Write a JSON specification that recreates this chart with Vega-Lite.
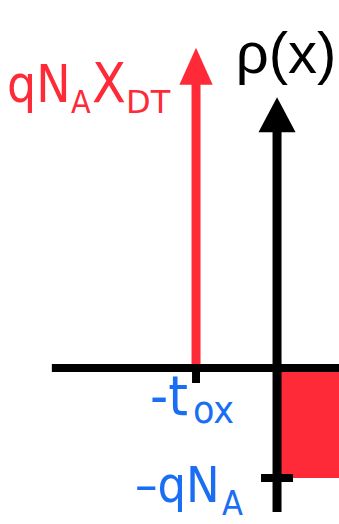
{
  "$schema": "https://vega.github.io/schema/vega-lite/v6.json",
  "autosize": {"type": "fit", "contains": "padding"},
  "width": 339,
  "height": 524,
  "padding": 0,
  "background": "white",
  "config": {"view": {"stroke": null}},
  "data": {
    "values": [
      {"part": "depletion charge", "x": 0, "x2": 0.8, "rho": 0, "rho2": -1},
      {"part": "sheet charge", "x": -1, "rho": 0, "rho2": 2.91},
      {"part": "x axis", "x": -2.78, "x2": 0.8, "rho": 0},
      {"part": "rho axis", "x": 0, "rho": -1.31, "rho2": 2.46},
      {"part": "oxide edge", "x": -1, "rho": 0},
      {"part": "acceptor level", "x": 0, "rho": -1},
      {"part": "label sheet", "x": -1, "rho": 2.91, "main": "qN", "sub": "A", "main2": "X", "sub2": "DT"},
      {"part": "label rho", "x": 0, "rho": 2.46, "main": "ρ(x)"},
      {"part": "label tox", "x": -1, "rho": 0, "main": "-t", "sub": "ox"},
      {"part": "label qNA", "x": 0, "rho": -1, "main": "–qN", "sub": "A"}
    ]
  },
  "encoding": {
    "x": {"field": "x", "type": "quantitative", "axis": null,
          "scale": {"domain": [-3.42, 0.765], "nice": false, "zero": false}},
    "y": {"field": "rho", "type": "quantitative", "axis": null,
          "scale": {"domain": [-1.418, 3.345], "nice": false, "zero": false}}
  },
  "layer": [
    {
      "transform": [{"filter": "datum.part === 'depletion charge'"}],
      "mark": {"type": "rect", "color": "#FE2A37", "clip": true},
      "encoding": {"x2": {"field": "x2"}, "y2": {"field": "rho2"}}
    },
    {
      "transform": [{"filter": "datum.part === 'sheet charge'"}],
      "mark": {"type": "rule", "color": "#FE2A37", "strokeWidth": 9, "y2Offset": 28},
      "encoding": {"y2": {"field": "rho2"}}
    },
    {
      "transform": [{"filter": "datum.part === 'sheet charge'"}],
      "mark": {"type": "point", "shape": "M-0.9,2L0,0L0.9,2Z", "size": 1369,
               "filled": true, "color": "#FE2A37", "opacity": 1, "strokeWidth": 0},
      "encoding": {"y": {"field": "rho2", "type": "quantitative"}}
    },
    {
      "transform": [{"filter": "datum.part === 'x axis'"}],
      "mark": {"type": "rule", "color": "black", "strokeWidth": 8, "clip": true},
      "encoding": {"x2": {"field": "x2"}}
    },
    {
      "transform": [{"filter": "datum.part === 'rho axis'"}],
      "mark": {"type": "rule", "color": "black", "strokeWidth": 9, "y2Offset": 25},
      "encoding": {"y2": {"field": "rho2"}}
    },
    {
      "transform": [{"filter": "datum.part === 'rho axis'"}],
      "mark": {"type": "point", "shape": "M-1.06,2L0,0L1.06,2Z", "size": 1225,
               "filled": true, "color": "black", "opacity": 1, "strokeWidth": 0},
      "encoding": {"y": {"field": "rho2", "type": "quantitative"}}
    },
    {
      "transform": [{"filter": "datum.part === 'oxide edge'"}],
      "mark": {"type": "rule", "color": "black", "strokeWidth": 8, "y2Offset": 15},
      "encoding": {"y2": {"field": "rho"}}
    },
    {
      "transform": [{"filter": "datum.part === 'acceptor level'"}],
      "mark": {"type": "tick", "orient": "horizontal", "color": "black",
               "size": 32, "thickness": 8, "opacity": 1}
    },
    {
      "transform": [{"filter": "datum.part === 'label sheet'"}],
      "layer": [
        {"mark": {"type": "text", "color": "#FE2A37", "font": "DejaVu Sans Condensed, Liberation Sans",
                  "fontSize": 51, "align": "left", "baseline": "alphabetic", "dx": -189, "dy": 54},
         "encoding": {"text": {"field": "main"}}},
        {"mark": {"type": "text", "color": "#FE2A37", "font": "DejaVu Sans Condensed, Liberation Sans",
                  "fontSize": 32, "align": "left", "baseline": "alphabetic", "dx": -125, "dy": 65},
         "encoding": {"text": {"field": "sub"}}},
        {"mark": {"type": "text", "color": "#FE2A37", "font": "DejaVu Sans Condensed, Liberation Sans",
                  "fontSize": 55, "align": "left", "baseline": "alphabetic", "dx": -104, "dy": 54},
         "encoding": {"text": {"field": "main2"}}},
        {"mark": {"type": "text", "color": "#FE2A37", "font": "DejaVu Sans, Liberation Sans",
                  "fontSize": 32, "align": "left", "baseline": "alphabetic", "dx": -70, "dy": 65},
         "encoding": {"text": {"field": "sub2"}}}
      ]
    },
    {
      "transform": [{"filter": "datum.part === 'label rho'"}],
      "mark": {"type": "text", "color": "black", "font": "Liberation Sans",
               "fontSize": 58, "align": "center", "baseline": "alphabetic", "dx": 9, "dy": -24},
      "encoding": {"text": {"field": "main"}}
    },
    {
      "transform": [{"filter": "datum.part === 'label tox'"}],
      "layer": [
        {"mark": {"type": "text", "color": "#1A6EF4", "font": "DejaVu Sans Condensed, Liberation Sans",
                  "fontSize": 56, "align": "left", "baseline": "alphabetic", "dx": -46, "dy": 47},
         "encoding": {"text": {"field": "main"}}},
        {"mark": {"type": "text", "color": "#1A6EF4", "font": "DejaVu Sans Condensed, Liberation Sans",
                  "fontSize": 39, "align": "left", "baseline": "alphabetic", "dx": -3, "dy": 55},
         "encoding": {"text": {"field": "sub"}}}
      ]
    },
    {
      "transform": [{"filter": "datum.part === 'label qNA'"}],
      "layer": [
        {"mark": {"type": "text", "color": "#1A6EF4", "font": "DejaVu Sans Condensed, Liberation Sans",
                  "fontSize": 50, "align": "left", "baseline": "alphabetic", "dx": -142, "dy": 24},
         "encoding": {"text": {"field": "main"}}},
        {"mark": {"type": "text", "color": "#1A6EF4", "font": "DejaVu Sans Condensed, Liberation Sans",
                  "fontSize": 34, "align": "left", "baseline": "alphabetic", "dx": -55, "dy": 37},
         "encoding": {"text": {"field": "sub"}}}
      ]
    }
  ]
}
